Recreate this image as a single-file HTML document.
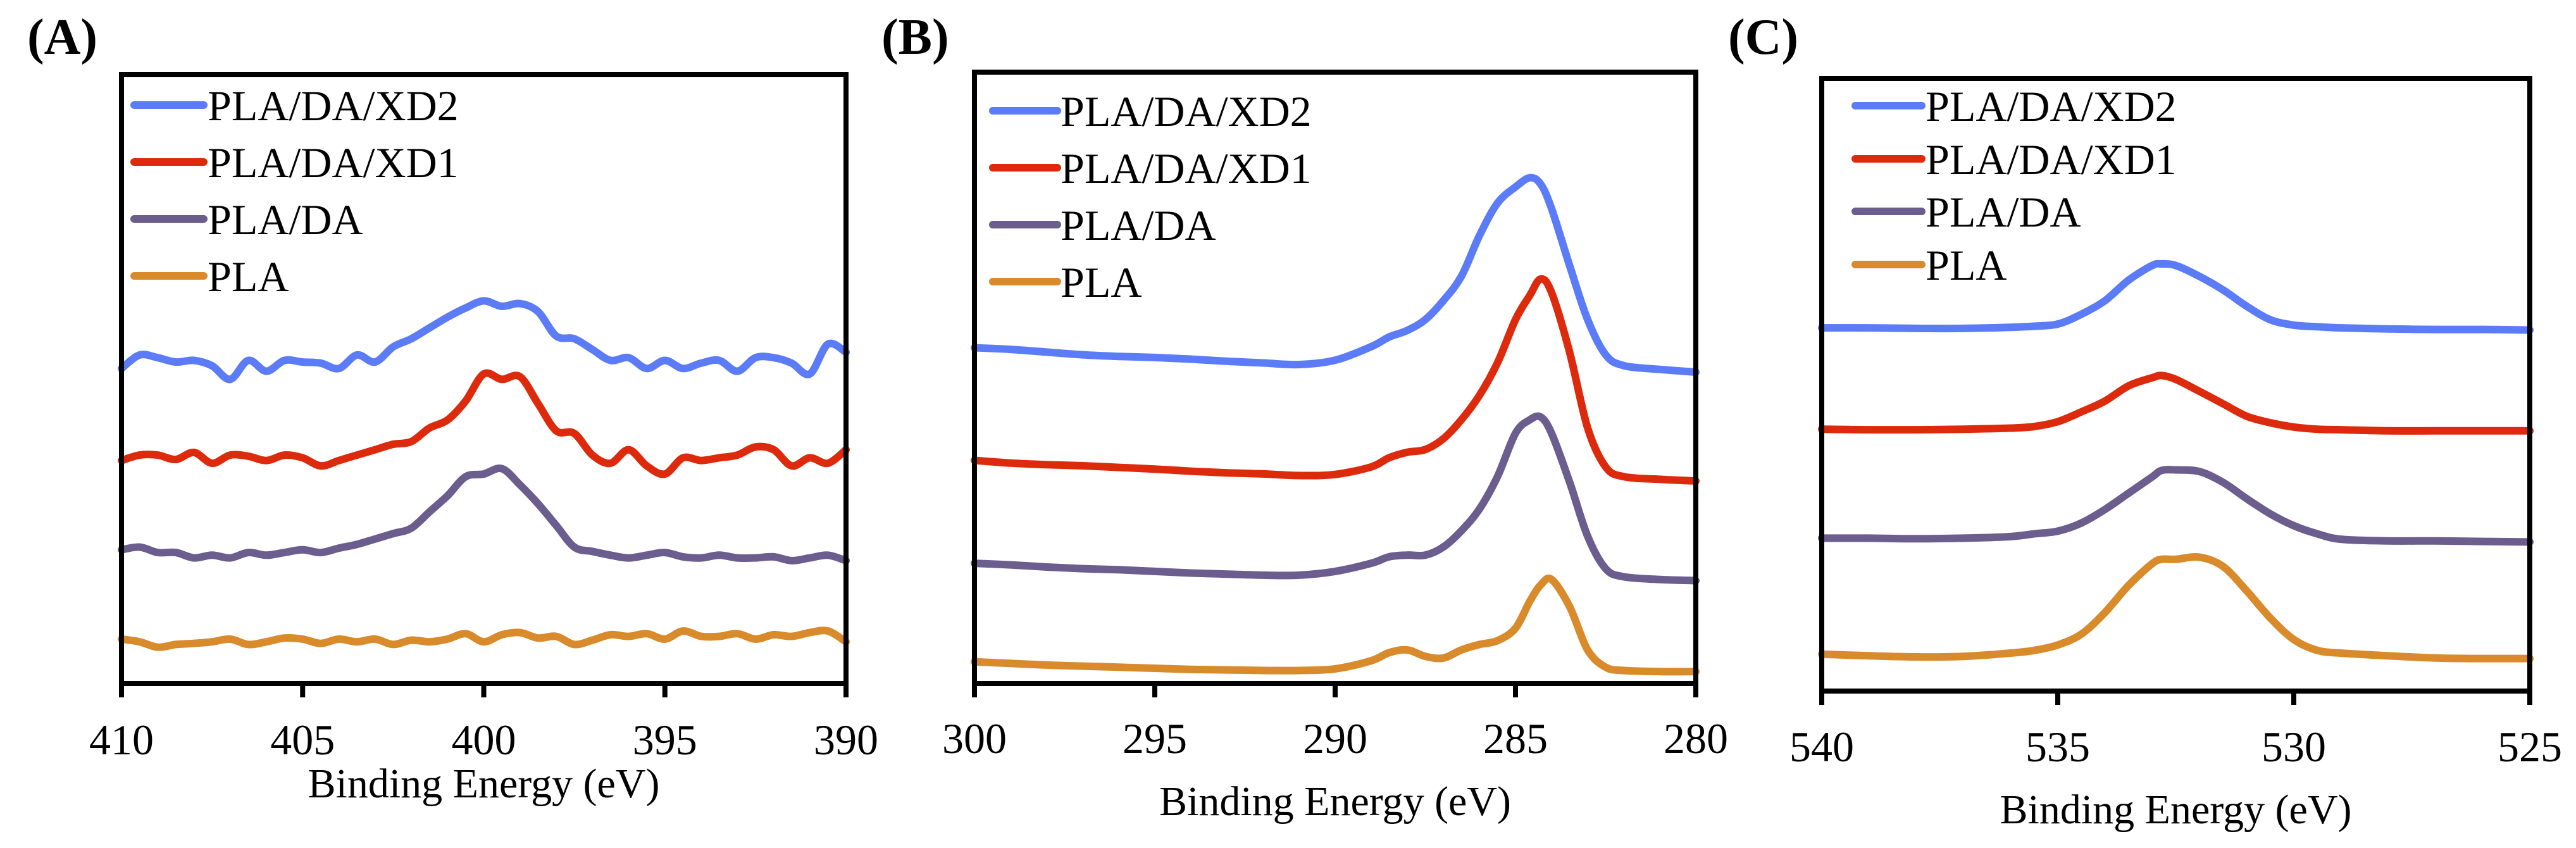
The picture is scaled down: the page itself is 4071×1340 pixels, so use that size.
<!DOCTYPE html>
<html><head><meta charset="utf-8">
<style>
html,body{margin:0;padding:0;background:#fff;}
svg{display:block;}
text{font-family:"Liberation Serif","Times New Roman",serif;fill:#000;}
</style></head>
<body>
<svg id="fig" width="4071" height="1340" viewBox="0 0 4071 1340" xmlns="http://www.w3.org/2000/svg"></svg>
<script>
const seriesNames = ["PLA/DA/XD2","PLA/DA/XD1","PLA/DA","PLA"];
const seriesColors = ["#5b7cf6","#de2a0c","#6b5d8d","#d98a2b"];

// Panel A (N 1s)
const energiesA = [410,409.5,409,408.5,408,407.5,407,406.5,406,405.5,405,404.5,404,403.5,403,402.5,402,401.5,401,400.5,400,399.5,399,398.5,398,397.5,397,396.5,396,395.5,395,394.5,394,393.5,393,392.5,392,391.5,391,390.5,390];
const xd2A = [820,845,840,832,835,825,800,835,815,835,832,830,820,845,832,860,875,895,915,932,945,935,940,925,880,875,855,835,840,820,835,820,830,835,815,840,840,830,810,865,850];
const xd1A = [650,660,660,652,665,645,660,658,650,660,655,640,650,660,670,680,685,710,725,760,810,800,805,755,705,700,660,645,670,640,625,655,650,655,660,675,670,640,655,645,670];
const daA  = [485,490,480,480,470,475,470,480,475,480,485,480,488,495,505,515,525,555,585,620,625,635,605,570,530,490,482,475,470,475,480,472,470,475,470,470,472,465,470,475,465];
const plaA = [320,315,305,310,312,315,320,310,315,322,320,312,320,315,320,310,318,315,320,330,315,328,332,322,325,310,318,328,325,330,320,335,325,325,330,320,328,325,332,335,315];
const ticksA = [410,405,400,395,390];

// Panel B (C 1s)
const energiesB = [300,299,298,297,296,295,294,293,292,291,290,289,288.5,288,287.5,287,286.5,286,285.5,285,284.6,284.3,284,283.5,283,282.5,282,281,280];
const xd2B = [858,855,850,845,842,840,837,833,830,827,835,860,878,890,910,945,990,1065,1125,1155,1172,1160,1115,1010,910,845,825,818,813];
const xd1B = [650,645,642,640,637,634,630,627,625,622,624,638,655,665,670,690,725,770,830,910,955,985,960,850,710,638,620,615,612];
const daB  = [460,457,453,450,448,445,442,440,438,438,445,460,472,475,475,490,520,560,620,700,725,730,700,610,510,450,435,430,428];
const plaB = [278,275,272,270,268,266,264,263,262,262,265,280,295,300,288,285,300,310,317,340,390,420,430,380,300,268,262,260,260];
const ticksB = [300,295,290,285,280];

// Panel C (O 1s)
const energiesC = [540,539,538,537,536,535.5,535,534.5,534,533.5,533,532.8,532.5,532,531.5,531,530.5,530,529.5,529,528,527,526,525];
const xd2C = [895,895,894,894,896,898,902,920,945,983,1010,1013,1010,990,965,935,910,900,897,895,893,892,892,891];
const xd1C = [708,707,707,708,710,713,722,740,760,788,803,807,800,778,755,732,720,712,708,707,705,705,705,705];
const daC  = [507,507,506,507,510,515,520,535,560,590,620,632,633,630,610,580,552,530,515,505,502,502,501,500];
const plaC = [293,290,288,289,295,300,310,330,370,420,460,468,468,472,455,410,360,320,300,295,290,286,285,285];
const ticksC = [540,535,530,525];

const NS = "http://www.w3.org/2000/svg";
const FONT = '"Liberation Serif", "Times New Roman", serif';
const svg = document.getElementById('fig');
function mk(tag, attrs, parent){
  const e = document.createElementNS(NS, tag);
  for (const k in attrs) e.setAttribute(k, attrs[k]);
  if (tag === 'text') e.setAttribute('font-family', FONT);
  (parent||svg).appendChild(e);
  return e;
}
function catmull(pts){
  let d = "M" + pts[0][0].toFixed(1) + "," + pts[0][1].toFixed(1);
  for (let i=0;i<pts.length-1;i++){
    const p0 = pts[i-1]||pts[i], p1 = pts[i], p2 = pts[i+1], p3 = pts[i+2]||p2;
    const c1x = p1[0]+(p2[0]-p0[0])/6, c1y = p1[1]+(p2[1]-p0[1])/6;
    const c2x = p2[0]-(p3[0]-p1[0])/6, c2y = p2[1]-(p3[1]-p1[1])/6;
    d += " C"+c1x.toFixed(1)+","+c1y.toFixed(1)+" "+c2x.toFixed(1)+","+c2y.toFixed(1)+" "+p2[0].toFixed(1)+","+p2[1].toFixed(1);
  }
  return d;
}

const panels = [
  {id:"a", label:"(A)", lx:43, box:[192,118,1337,1080], xd:[410,390], yd:[238,1363], energies:energiesA, series:[xd2A,xd1A,daA,plaA], ticks:ticksA,
   tickY:1192, titleY:1260, leg:{x1:212,x2:322,tx:328,ys:[166,256,346,436]}},
  {id:"b", label:"(B)", lx:1393, box:[1540,114,2680,1080], xd:[300,280], yd:[238,1367], energies:energiesB, series:[xd2B,xd1B,daB,plaB], ticks:ticksB,
   tickY:1190, titleY:1288, leg:{x1:1569,x2:1671,tx:1676,ys:[175,265,355,445]}},
  {id:"c", label:"(C)", lx:2731, box:[2879,124,3998,1092], xd:[540,525], yd:[225,1355], energies:energiesC, series:[xd2C,xd1C,daC,plaC], ticks:ticksC,
   tickY:1203, titleY:1301, leg:{x1:2932,x2:3037,tx:3043,ys:[167,251,334,418]}}
];

panels.forEach(p=>{
  const g = mk('g', {});
  
  
  const [L,T,R,B] = p.box;
  const xs = v => L + (v - p.xd[0])/(p.xd[1]-p.xd[0])*(R-L);
  const ys = v => B - (v - p.yd[0])/(p.yd[1]-p.yd[0])*(B-T);

  const lab = mk('text', {x:p.lx, y:85, 'font-size':80, 'font-weight':'bold'}, g);
  lab.textContent = p.label;
  
  

  p.series.forEach((vals, si)=>{
    const pts = p.energies.map((e,i)=>[xs(e), ys(vals[i])]);
    const path = mk('path', {d:catmull(pts), fill:'none', stroke:seriesColors[si], 'stroke-width':12, 'stroke-linejoin':'round', 'stroke-linecap':'round'}, g);
    
    
  });

  const frame = mk('rect', {x:L, y:T, width:R-L, height:B-T, fill:'none', stroke:'#000', 'stroke-width':8}, g);
  
  

  p.ticks.forEach(t=>{
    const x = xs(t);
    const tk = mk('line', {x1:x, x2:x, y1:B, y2:B+22, stroke:'#000', 'stroke-width':8}, g);
    
    
    const tl = mk('text', {x:x, y:p.tickY, 'font-size':68, 'text-anchor':'middle'}, g);
    tl.textContent = String(t);
    
    
  });

  const title = mk('text', {x:(L+R)/2, y:p.titleY, 'font-size':66, 'text-anchor':'middle'}, g);
  title.textContent = "Binding Energy (eV)";
  
  

  seriesNames.forEach((n, si)=>{
    const y = p.leg.ys[si];
    const ln = mk('line', {x1:p.leg.x1, x2:p.leg.x2, y1:y, y2:y, stroke:seriesColors[si], 'stroke-width':12, 'stroke-linecap':'round'}, g);
    
    
    const tx = mk('text', {x:p.leg.tx, y:y+24, 'font-size':68}, g);
    tx.textContent = n;
    
    
  });
});
</script>
</body></html>
